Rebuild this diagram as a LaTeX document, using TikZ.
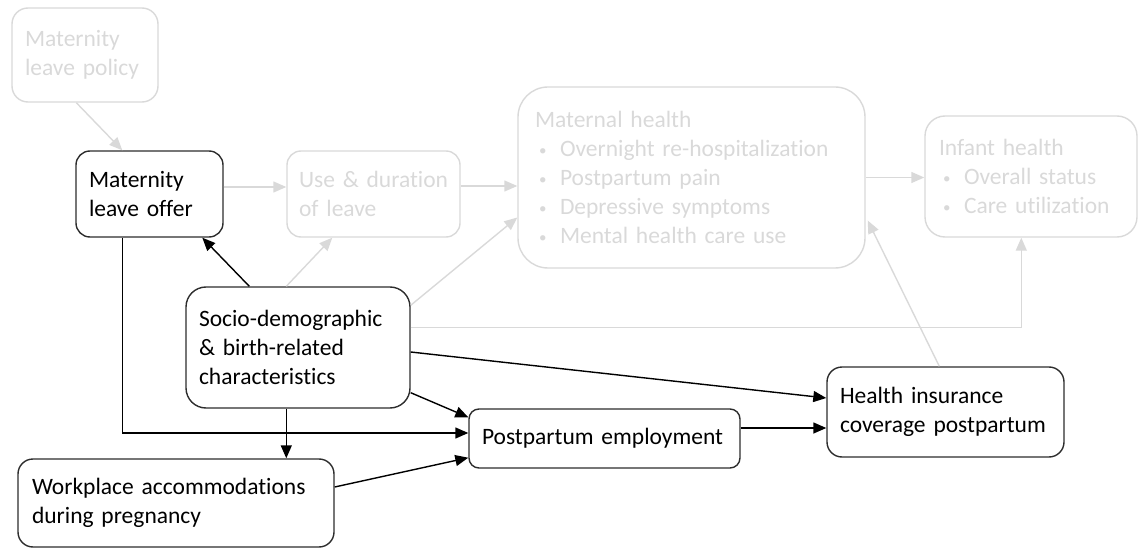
\documentclass[tikz,border=0pt]{standalone}
\usepackage{fontspec}
\setmainfont{Carlito}[Ligatures=CommonOff]
\usetikzlibrary{arrows.meta,calc}
\definecolor{lightc}{RGB}{217,217,217}
\definecolor{darkb}{RGB}{45,45,45}
\newcommand{\bul}{\makebox[21pt][l]{\raisebox{1pt}{\fontsize{15}{15}\selectfont\textbullet}}}
\tikzset{
  box/.style={draw=darkb, line width=1.4pt, text=black, align=left,
    inner xsep=13pt, inner ysep=0pt, anchor=center,
    font=\fontsize{23.5}{29}\selectfont},
  lbox/.style={box, draw=lightc, text=lightc},
  conn/.style={line width=1.4pt, draw=black, -{Triangle[length=13pt,width=11pt]}},
  lconn/.style={conn, draw=lightc},
}
\begin{document}
\begin{tikzpicture}[x=1pt,y=-1pt]
\useasboundingbox (0,0) rectangle (1138,548);
% nodes
\node[lbox, rounded corners=16pt, minimum width=146pt, minimum height=94pt, text width=120pt] (policy) at (85,55) {\mbox{Maternity}\\\mbox{leave policy}};
\node[box, rounded corners=14pt, minimum width=147pt, minimum height=86pt, text width=121pt] (offer) at (149.5,194) {\mbox{Maternity}\\\mbox{leave offer}};
\node[lbox, rounded corners=14pt, minimum width=173pt, minimum height=86pt, text width=149pt, inner xsep=12pt] (use) at (373.5,194) {\mbox{Use \& duration}\\\mbox{of leave}};
\node[lbox, rounded corners=30pt, minimum width=347pt, minimum height=181pt, text width=313pt, inner xsep=17pt] (maternal) at (691.5,177.5) {\mbox{Maternal health}\\
\hspace*{4pt}\bul \mbox{Overnight re-hospitalization}\\
\hspace*{4pt}\bul \mbox{Postpartum pain}\\
\hspace*{4pt}\bul \mbox{Depressive symptoms}\\
\hspace*{4pt}\bul \mbox{Mental health care use}};
\node[lbox, rounded corners=20pt, minimum width=212pt, minimum height=121pt, text width=184pt, inner xsep=14pt] (infant) at (1031,176.5) {\mbox{Infant health}\\
\hspace*{4pt}\bul \mbox{Overall status}\\
\hspace*{4pt}\bul \mbox{Care utilization}};
\node[box, rounded corners=20pt, minimum width=224pt, minimum height=121pt, text width=198pt] (socio) at (298,347.5) {\mbox{Socio-demographic}\\\mbox{\& birth-related}\\\mbox{characteristics}};
\node[box, rounded corners=10pt, minimum width=271pt, minimum height=59pt, text width=245pt] (postpartum) at (604.5,438.5) {\mbox{Postpartum employment}};
\node[box, rounded corners=15pt, minimum width=237pt, minimum height=90pt, text width=211pt] (health) at (945.5,412) {\mbox{Health insurance}\\\mbox{coverage postpartum}};
\node[box, rounded corners=15pt, minimum width=316pt, minimum height=88pt, text width=288pt, inner xsep=14pt] (workplace) at (176,503) {\mbox{Workplace accommodations}\\\mbox{during pregnancy}};
% coordinates
\coordinate (pol1) at ([xshift=65pt]policy.south west);
\coordinate (off1) at ([xshift=47pt]offer.north west);
\coordinate (off2) at ([yshift=7pt]offer.east);
\coordinate (use2) at ([yshift=8pt]use.east);
\coordinate (off3) at ([xshift=127pt]offer.south west);
\coordinate (off4) at ([xshift=47pt]offer.south west);
\coordinate (use3) at ([xshift=46pt]use.south west);
\coordinate (soc1) at ([xshift=64pt]socio.north west);
\coordinate (soc2) at ([xshift=101pt]socio.north west);
\coordinate (soc3) at ([yshift=-19pt]socio.north east);
\coordinate (mat3) at ([yshift=-40pt]maternal.west);
\coordinate (soc4) at ([yshift=20pt]socio.east);
\coordinate (inf4) at ([xshift=97pt]infant.south west);
\coordinate (soc5) at ([yshift=-4.5pt]socio.east);
\coordinate (hea5) at ([yshift=14pt]health.west);
\coordinate (soc6) at ([yshift=16pt]socio.south east);
\coordinate (pos6) at ([yshift=-9pt]postpartum.north west);
\coordinate (soc7) at ([xshift=101pt]socio.south west);
\coordinate (pos4) at ([yshift=5.5pt]postpartum.west);
\coordinate (wor8) at ([yshift=16pt]workplace.east);
\coordinate (pos8) at ([yshift=11pt]postpartum.south west);
\coordinate (pos9) at ([yshift=10.5pt]postpartum.east);
\coordinate (hea10) at ([xshift=113pt]health.north west);
\coordinate (mat10) at ([xshift=2pt,yshift=-43pt]maternal.east);
% gray connectors
\draw[lconn] (pol1) -- (off1);
\draw[lconn] (off2) -- (off2 -| use.west);
\draw[lconn] (use2) -- (use2 -| maternal.west);
\draw[lconn] (maternal.east) -- (maternal.east -| infant.west);
\draw[lconn] (soc2) -- (use3);
\draw[lconn] (soc3) -- (mat3);
\draw[lconn] (soc4) -| (inf4);
\draw[lconn] (hea10) -- (mat10);
% black connectors
\draw[conn] (soc1) -- (off3);
\draw[conn] (soc5) -- (hea5);
\draw[conn] (soc6) -- (pos6);
\draw[conn] (soc7) -- (soc7 |- workplace.north);
\draw[conn] (off4) |- (pos4);
\draw[conn] (wor8) -- (pos8);
\draw[conn] (pos9) -- (pos9 -| health.west);
\end{tikzpicture}
\end{document}
